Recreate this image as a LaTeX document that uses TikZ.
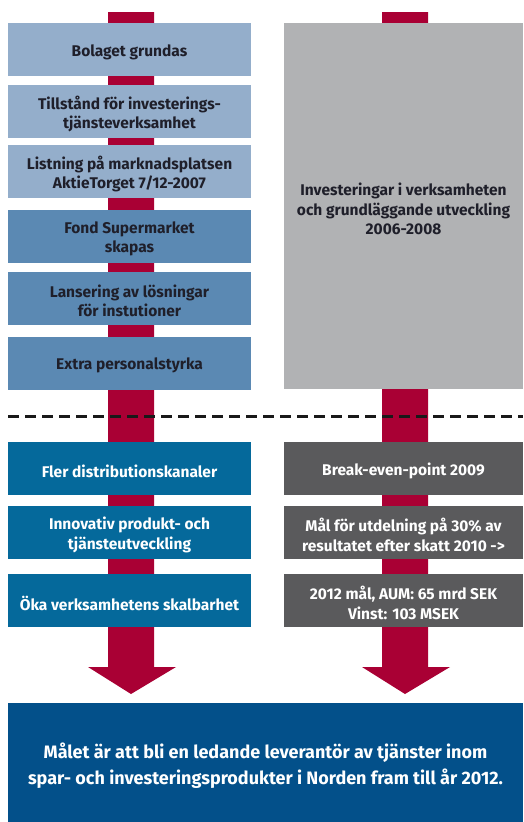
\documentclass[tikz,border=0pt]{standalone}
\usepackage{fontspec}
\setmainfont{Fira Sans}
\usetikzlibrary{calc}
\definecolor{lblue}{HTML}{94AECB}
\definecolor{mblue}{HTML}{5B89B3}
\definecolor{tblue}{HTML}{05699B}
\definecolor{lgrey}{HTML}{B1B2B4}
\definecolor{dgrey}{HTML}{5A5A5C}
\definecolor{arrred}{HTML}{A90034}
\definecolor{goalblue}{HTML}{03508A}
\definecolor{darktext}{HTML}{1F1F2A}
\tikzset{
  box/.style={rectangle, inner sep=0pt, outer sep=0pt},
  lbox/.style={box, minimum width=243pt, minimum height=53pt},
  rbox/.style={box, minimum width=239pt, minimum height=53pt},
  txt/.style={inner sep=0pt, align=center, font=\fontsize{15.5}{19.5}\selectfont\bfseries},
  flow/.style={fill=arrred, draw=none},
}
\newcommand\boxtext[3]{\node[txt, #2] (#1t) at ([yshift=-2.5pt]#1.center) {#3};}
\begin{document}
\begin{tikzpicture}[x=1pt,y=-1pt]
\useasboundingbox (0,0) rectangle (523,822);
\fill[white] (0,0) rectangle (523,822);
% red arrows (background)
\coordinate (ltop) at (131,12);
\coordinate (ltip) at (131,694);
\coordinate (rtop) at (405,12);
\coordinate (rtip) at (405,694);
\fill[flow] ($(ltop)+(-23,0)$) -- ($(ltop)+(23,0)$) -- ($(ltip)+(23,-27)$) -- ($(ltip)+(45,-27)$)
  -- (ltip) -- ($(ltip)+(-43,-27)$) -- ($(ltip)+(-23,-27)$) -- cycle;
\fill[flow] ($(rtop)+(-23,0)$) -- ($(rtop)+(23,0)$) -- ($(rtip)+(23,-27)$) -- ($(rtip)+(45,-27)$)
  -- (rtip) -- ($(rtip)+(-43,-27)$) -- ($(rtip)+(-23,-27)$) -- cycle;
% left upper boxes
\node[lbox, fill=lblue] (b1) at (129.5,49.5) {};
\node[lbox, fill=lblue] (b2) at (129.5,111.5) {};
\node[lbox, fill=lblue] (b3) at (129.5,171.5) {};
\node[lbox, fill=mblue] (b4) at (129.5,236.5) {};
\node[lbox, fill=mblue] (b5) at (129.5,298.5) {};
\node[lbox, fill=mblue] (b6) at (129.5,363) {};
\boxtext{b1}{text=darktext}{Bolaget grundas}
\boxtext{b2}{text=darktext}{Tillstånd för investerings-\\tjänsteverksamhet}
\boxtext{b3}{text=darktext}{Listning på marknadsplatsen\\AktieTorget 7/12-2007}
\boxtext{b4}{text=darktext}{Fond Supermarket\\skapas}
\boxtext{b5}{text=darktext}{Lansering av lösningar\\för instutioner}
\boxtext{b6}{text=darktext}{Extra personalstyrka}
% right grey box
\node[box, fill=lgrey, minimum width=239pt, minimum height=366pt] (g1) at (403.5,206) {};
\node[txt, text=darktext] (g1t) at (403.5,209) {Investeringar i verksamheten\\och grundläggande utveckling\\2006-2008};
% dashed separator
\coordinate (dl) at (8,416);
\coordinate (dr) at (523,416);
\draw[line width=3pt, dash pattern=on 10.7pt off 6.3pt, color=black!90] (dl) -- (dr);
% lower boxes
\node[lbox, fill=tblue] (c1) at (129.5,468.5) {};
\node[lbox, fill=tblue] (c2) at (129.5,532.5) {};
\node[lbox, fill=tblue] (c3) at (129.5,600.5) {};
\node[rbox, fill=dgrey] (d1) at (403.5,468.5) {};
\node[rbox, fill=dgrey] (d2) at (403.5,532.5) {};
\node[rbox, fill=dgrey] (d3) at (403.5,600.5) {};
\boxtext{c1}{text=white}{Fler distributionskanaler}
\boxtext{c2}{text=white}{Innovativ produkt- och\\tjänsteutveckling}
\boxtext{c3}{text=white}{Öka verksamhetens skalbarhet}
\boxtext{d1}{text=white}{Break-even-point 2009}
\boxtext{d2}{text=white}{Mål för utdelning på 30\% av\\resultatet efter skatt 2010 ->}
\boxtext{d3}{text=white}{2012 mål, AUM: 65 mrd SEK\\Vinst: 103 MSEK}
% goal box
\node[box, fill=goalblue, minimum width=515pt, minimum height=119pt] (goal) at (265.5,762.5) {};
\node[txt, text=white, font=\fontsize{18}{25.5}\selectfont\bfseries] (goalt) at (265.5,765.5) {Målet är att bli en ledande leverantör av tjänster inom\\spar- och investeringsprodukter i Norden fram till år 2012.};
\end{tikzpicture}
\end{document}
